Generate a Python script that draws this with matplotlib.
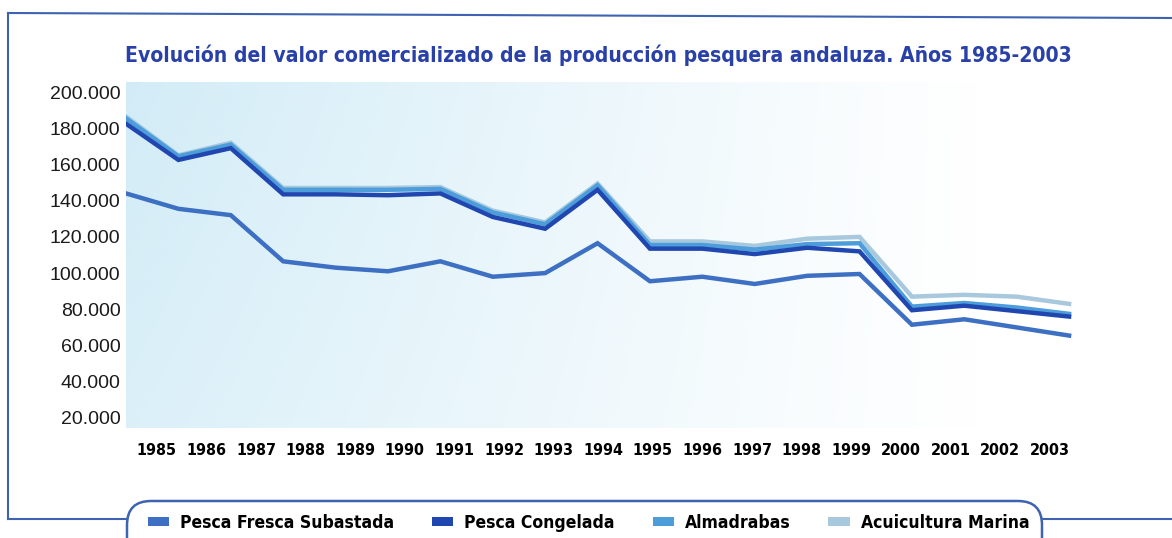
import numpy as np
import matplotlib.pyplot as plt
from matplotlib.patches import FancyBboxPatch, Patch
from matplotlib.lines import Line2D
from matplotlib.transforms import IdentityTransform
from matplotlib.ticker import FuncFormatter
from matplotlib.colors import to_rgb

# data (miles de euros)
years = list(range(1985, 2004))
pesca_fresca = [144000, 135500, 132000, 106500, 103000, 101000, 106500, 98000, 100000, 116500,
                95500, 98000, 94000, 98500, 99500, 71500, 74500, 70000, 65500]
pesca_congelada = [182500, 162500, 169000, 143500, 143500, 143000, 144000, 131000, 124500, 146000,
                   113500, 113500, 110500, 114000, 112000, 79500, 82000, 79000, 76000]
almadrabas = [185500, 164500, 171000, 146000, 146000, 146000, 146500, 133500, 127000, 148500,
              115500, 115500, 113000, 116000, 116500, 81500, 83500, 81000, 77500]
acuicultura = [186500, 165000, 172000, 147000, 147000, 147000, 147500, 134500, 128000, 149500,
               117500, 117500, 115000, 119000, 120000, 87000, 88000, 87000, 83000]

labels = ["Pesca Fresca Subastada", "Pesca Congelada", "Almadrabas", "Acuicultura Marina"]
colors = ["#3d6fc2", "#2047b0", "#4d9ddb", "#a8c9dd"]
title = "Evolución del valor comercializado de la producción pesquera andaluza. Años 1985-2003"

bold_font = dict(family=["DejaVu Sans"], fontweight="bold", fontstretch="condensed")

W, H = 1172, 538
fig = plt.figure(figsize=(W / 100, H / 100), dpi=100)
renderer = fig.canvas.get_renderer()


def size_for(s, target_px, **kw):
    # pick a font size so that the string s is about target_px wide
    t = fig.text(0, 0, s, fontsize=20, **kw)
    w = t.get_window_extent(renderer).width
    t.remove()
    return 20 * target_px / w


ax = fig.add_axes([126 / W, 1 - 428 / H, (1078 - 126) / W, (428 - 82) / H])

# light blue background, fading to white on the right
gx = np.linspace(0, 1, 300)[None, :]
gy = np.linspace(0, 1, 80)[:, None]
alpha = np.clip(1 - gx / 0.9, 0, 1) ** 1.1 * (0.8 + 0.2 * (1 - gy))
rgba = np.zeros((80, 300, 4))
rgba[..., :3] = to_rgb("#d2ecf7")
rgba[..., 3] = alpha
ax.imshow(rgba, extent=[0, 1, 0, 1], transform=ax.transAxes, aspect="auto",
          zorder=0, interpolation="bilinear")

series = [pesca_fresca, pesca_congelada, almadrabas, acuicultura]
for vals, c, z in zip(series[::-1], colors[::-1], [2, 3, 4, 5]):
    ax.plot(years, vals, color=c, lw=3.2, solid_joinstyle="miter", zorder=z)

ax.set_xlim(1985, 2003.17)
ax.set_ylim(14467, 205522)
ax.set_yticks(range(20000, 200001, 20000))
ax.yaxis.set_major_formatter(FuncFormatter(lambda v, p: f"{int(v):,}".replace(",", ".")))
ax.set_xticks(np.linspace(1985.59, 2002.63, len(years)), labels=[str(y) for y in years])
ax.tick_params(axis="y", length=0, pad=4, labelsize=14, labelcolor="#1a1a1a")
ax.tick_params(axis="x", length=0, pad=11)
for t in ax.get_yticklabels():
    t.set_fontfamily(["Liberation Sans", "DejaVu Sans"])
xsize = size_for("1985", 40, **bold_font)
for t in ax.get_xticklabels():
    t.set_fontfamily(["DejaVu Sans"])
    t.set_fontweight("bold")
    t.set_fontstretch("condensed")
    t.set_fontsize(xsize)
for s in ax.spines.values():
    s.set_visible(False)

fig.text(598 / W, 1 - 55 / H, title, ha="center", va="center",
         fontsize=size_for(title, 948, **bold_font), color="#2840a8", **bold_font)

# frame lines (pixel coords)
frame_c = "#3e63b0"
idt = IdentityTransform()
fig.add_artist(Line2D([8, 8], [H - 519, H - 13], color=frame_c, lw=1.5, transform=idt))
fig.add_artist(Line2D([8, W], [H - 13, H - 18], color=frame_c, lw=1.5, transform=idt))
fig.add_artist(Line2D([8, 127], [H - 519, H - 519], color=frame_c, lw=1.5, transform=idt))
fig.add_artist(Line2D([1042, W], [H - 519, H - 519], color=frame_c, lw=1.5, transform=idt))
fig.add_artist(FancyBboxPatch((127, -40), 1042 - 127, H - 501 + 40,
                              boxstyle="round,pad=0,rounding_size=24",
                              fc="white", ec=frame_c, lw=1.8, transform=idt))

lsize = size_for(labels[0], 214, **bold_font)
handles = [Patch(facecolor=c, edgecolor="none") for c in colors]
fig.legend(handles, labels, ncol=4, loc="center left", bbox_to_anchor=(132 / W, 1 - 523 / H),
           frameon=False, handlelength=1.2, handleheight=0.45, handletextpad=0.65,
           columnspacing=2.15,
           prop=dict(family=["DejaVu Sans"], weight="bold", stretch="condensed", size=lsize))

fig.savefig("out.png", dpi=100)
